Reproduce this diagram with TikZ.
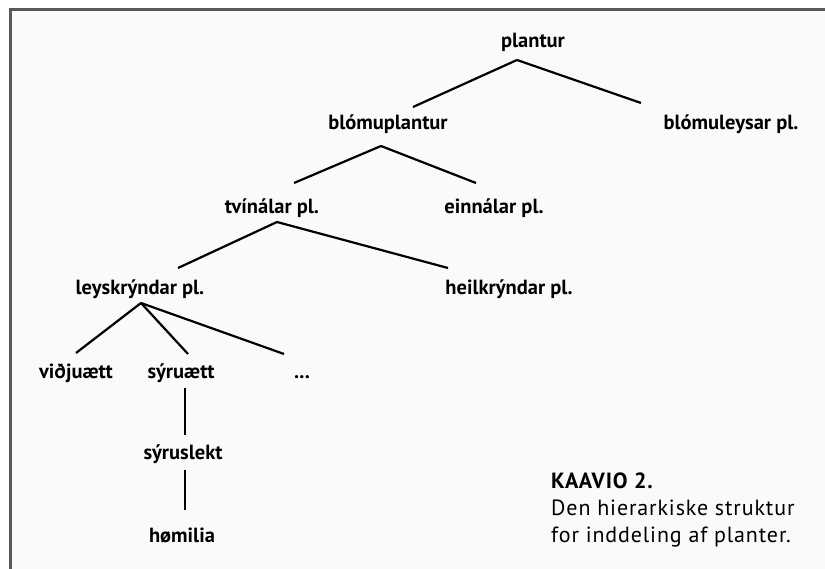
\documentclass[tikz,border=0pt]{standalone}
\usepackage{fontspec}
\setmainfont{PT Sans}
\definecolor{framegray}{HTML}{585858}
\definecolor{paper}{HTML}{F9FAFB}
\tikzset{
  taxon/.style={anchor=base, font=\bfseries\fontsize{20.5}{24}\selectfont, inner sep=0pt},
  caption/.style={anchor=base west, font=\fontsize{22}{26}\selectfont\addfontfeatures{LetterSpace=4}, inner sep=0pt},
  branch/.style={line width=2.2pt},
}
\begin{document}
\begin{tikzpicture}[x=1pt,y=-1pt]
  \useasboundingbox (0,0) rectangle (825,569);
  \fill[paper] (10,10) rectangle (825,569);
  \draw[framegray, line width=3pt] (10,575) -- (10,10) -- (830,10);
  \node (plantur)   at (533,48)  [taxon] {plantur};
  \node (blomupl)   at (388,130) [taxon] {blómuplantur};
  \node (blomuleys) at (731,130) [taxon] {blómuleysar pl.};
  \node (tvinalar)  at (272,214) [taxon] {tvínálar pl.};
  \node (einnalar)  at (494,214) [taxon] {einnálar pl.};
  \node (leyskr)    at (140,295) [taxon] {leyskrýndar pl.};
  \node (heilkr)    at (509,295) [taxon] {heilkrýndar pl.};
  \node (vidju)     at (76,378)  [taxon] {viðjuætt};
  \node (syru)      at (181,378) [taxon] {sýruætt};
  \node (dots)      at (302,378) [taxon] {...};
  \node (syruslekt) at (183,459) [taxon] {sýruslekt};
  \node (homilia)   at (182,542) [taxon] {hømilia};
  \node (captitle)  at (551,488) [caption] {\textbf{KAAVIO 2.}};
  \node (capline1)  at (551,515) [caption] {Den hierarkiske struktur};
  \node (capline2)  at (551,542) [caption] {for inddeling af planter.};
  \draw[branch] ([xshift=-16pt,yshift=-12pt]plantur.base) -- ([xshift=25pt,yshift=23pt]blomupl.base);
  \draw[branch] ([xshift=-16pt,yshift=-12pt]plantur.base) -- ([xshift=-90pt,yshift=27pt]blomuleys.base);
  \draw[branch] ([xshift=-7pt,yshift=-16pt]blomupl.base) -- ([xshift=22pt,yshift=31pt]tvinalar.base);
  \draw[branch] ([xshift=-7pt,yshift=-16pt]blomupl.base) -- ([xshift=-18pt,yshift=31pt]einnalar.base);
  \draw[branch] ([xshift=5pt,yshift=-8pt]tvinalar.base) -- ([xshift=38pt,yshift=27pt]leyskr.base);
  \draw[branch] ([xshift=5pt,yshift=-8pt]tvinalar.base) -- ([xshift=-61pt,yshift=27pt]heilkr.base);
  \draw[branch] ([xshift=1pt,yshift=-8pt]leyskr.base) -- ([yshift=25pt]vidju.base);
  \draw[branch] ([xshift=1pt,yshift=-8pt]leyskr.base) -- ([xshift=7pt,yshift=24pt]syru.base);
  \draw[branch] ([xshift=1pt,yshift=-8pt]leyskr.base) -- ([xshift=-18pt,yshift=24pt]dots.base);
  \draw[branch] ([xshift=4pt,yshift=-10pt]syru.base) -- ([xshift=2pt,yshift=24pt]syruslekt.base);
  \draw[branch] ([xshift=2pt,yshift=-11pt]syruslekt.base) -- ([xshift=3pt,yshift=32pt]homilia.base);
\end{tikzpicture}
\end{document}
